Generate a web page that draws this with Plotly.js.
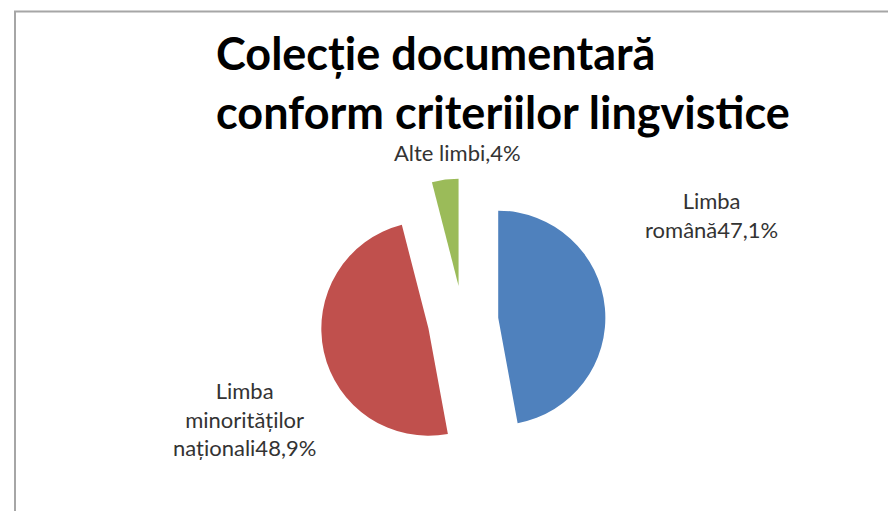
<!DOCTYPE html>
<html>
<head>
<meta charset="utf-8">
<script src="https://cdn.plot.ly/plotly-3.0.1.min.js"></script>
<style>html,body{margin:0;padding:0;background:#fff;}#chart{width:888px;height:511px;}</style>
</head>
<body>
<div id="chart"></div>
<script>
// Data
const categories = ['Limba română', 'Limba minorităților naționali', 'Alte limbi,'];
const values = [47.1, 48.9, 4];
const colors = ['#4F81BD', '#C0504D', '#9BBB59'];
const wrapLabel = [true, true, false];
const titleText = 'Colecție documentară<br>conform criteriilor lingvistice';

// Label placement (pixels in the 888x511 canvas)
const labelPos = [[711, 215], [244, 419], [458, 152]];

const W = 888, H = 511;
const fmt = v => String(v).replace('.', ',') + '%';

const annotations = categories.map((c, i) => ({
  text: (wrapLabel[i] ? c.split(' ').join('<br>') : c) + fmt(values[i]),
  x: labelPos[i][0] / W, y: 1 - labelPos[i][1] / H,
  xref: 'paper', yref: 'paper', xanchor: 'center', yanchor: 'middle',
  showarrow: false, align: 'center',
  font: {family: 'Lato, sans-serif', size: 22, color: '#333333'}
}));

const cx = 463, cy = 321, half = 142.5;
const trace = {
  type: 'pie',
  labels: categories,
  values: values,
  sort: false,
  direction: 'clockwise',
  rotation: 0,
  pull: values.map(() => 0.33),
  marker: {colors: colors, line: {width: 0}},
  textinfo: 'none',
  hoverinfo: 'label+percent',
  showlegend: false,
  domain: {x: [(cx - half) / W, (cx + half) / W], y: [1 - (cy + half) / H, 1 - (cy - half) / H]}
};

const layout = {
  width: W, height: H,
  margin: {l: 0, r: 0, t: 0, b: 0},
  paper_bgcolor: '#ffffff',
  showlegend: false,
  title: {
    text: '<b>' + titleText + '</b>',
    x: 216 / W, xanchor: 'left', xref: 'container',
    y: 1 - 70 / H, yanchor: 'top', yref: 'container',
    font: {family: 'Lato, sans-serif', size: 45, color: '#000000'}
  },
  annotations: annotations,
  shapes: [
    {type: 'line', xref: 'paper', yref: 'paper', x0: 14 / W, x1: 1, y0: 1 - 11.5 / H, y1: 1 - 11.5 / H, line: {color: '#a6a6a6', width: 2}},
    {type: 'line', xref: 'paper', yref: 'paper', x0: 15 / W, x1: 15 / W, y0: 0, y1: 1 - 11 / H, line: {color: '#a6a6a6', width: 2}}
  ]
};

Plotly.newPlot('chart', [trace], layout, {displayModeBar: false, staticPlot: true});
</script>
</body>
</html>
